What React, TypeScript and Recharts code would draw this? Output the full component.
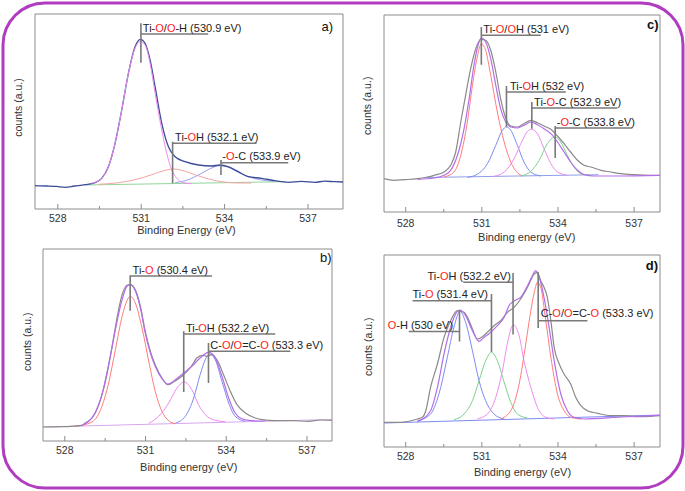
import { ComposedChart, Line, XAxis, YAxis, Scatter, ReferenceArea } from 'recharts'

const PAGE_W = 685
const PAGE_H = 491
const FONT = '"Liberation Sans", Arial, sans-serif'
const FRAME = '#8c8c8c'
const MARK = '#7a7a7a'

const energyTicks = [528, 529.5, 531, 532.5, 534, 535.5, 537]

// colours of the fitted components
const RAW = '#8a8a8a'
const FIT = '#b46ee8'
const MAGENTA = '#f08af0'
const RED = '#ff7c7c'
const BLUE = '#7d8af2'
const GREEN = '#7fd08c'
const NAVY = '#3d4c96'

// ---- a) ----
const aRaw = [
  [527.18, 23.3], [527.6, 23.0], [527.95, 22.6], [528.26, 21.7], [528.6, 23.0], [528.98, 24.3],
  [529.34, 26.3], [529.58, 30.7], [529.82, 42.3], [530.06, 65.7], [530.3, 99], [530.54, 135.7],
  [530.78, 162.3], [530.97, 169.7], [531.14, 165.7], [531.32, 149], [531.5, 122.3], [531.74, 85.7],
  [531.98, 62.3], [532.22, 52.3], [532.58, 47.3], [533.06, 44], [533.54, 43], [533.83, 44],
  [534.13, 42.3], [534.49, 37.3], [534.85, 32.3], [535.33, 30.7], [535.81, 28.3], [536.29, 26.7],
  [536.77, 27.6], [537.25, 26.7], [537.6, 27.8], [537.97, 27.3], [538.26, 27],
]
const aPeak1 = [
  [529.22, 25.7], [529.58, 30.7], [529.82, 42.3], [530.06, 65.7], [530.3, 99], [530.54, 135.7],
  [530.78, 160.7], [530.97, 167.3], [531.14, 164], [531.32, 145.7], [531.5, 115.7], [531.74, 79],
  [531.92, 55.7], [532.1, 39], [532.28, 30.7], [532.52, 26.3], [532.82, 25.3],
]
const aPeak2 = [
  [529.46, 24.7], [530.18, 26.3], [530.78, 29.3], [531.38, 34.3], [531.86, 38.7], [532.16, 40],
  [532.46, 38.7], [532.94, 34.3], [533.42, 30], [533.89, 27.3], [534.49, 26], [534.97, 26],
]
const aPeak3 = [
  [532.22, 26.3], [532.58, 28.3], [532.94, 32.3], [533.3, 37.7], [533.59, 41.7], [533.83, 43.3],
  [534.13, 41.7], [534.49, 36.7], [534.85, 32.3], [535.33, 29], [535.81, 27.7],
]
const aBase = [[528.98, 24], [536.17, 27.3]]
const aBrackets = [
  [[530.99, 146.3], [530.99, 185.7], [530.99, 175], [533.41, 175]],
  [[532.13, 25.7], [532.13, 67.3], [532.13, 65.7], [535.15, 65.7]],
  [[533.87, 34], [533.87, 49], [533.87, 46.3], [536.29, 46.3]],
]
const aNotes = [
  { e: 531.06, h: 177.5, label: 'Ti-{O}/{O}-H (530.9 eV)' },
  { e: 532.22, h: 68, label: 'Ti-{O}H (532.1 eV)' },
  { e: 533.92, h: 49, label: '-{O}-C (533.9 eV)' },
]

// ---- b) ----
const bRaw = [
  [527.19, 14], [527.9, 14.3], [528.64, 15.7], [528.76, 18], [529.01, 23], [529.26, 36.3],
  [529.51, 59.7], [529.75, 93], [529.94, 123], [530.13, 146.3], [530.31, 155.7], [530.43, 156.3],
  [530.62, 151.3], [530.81, 134.7], [530.99, 109.7], [531.18, 89.7], [531.36, 76.3], [531.61, 63],
  [531.83, 56.3], [532.04, 59], [532.35, 64.7], [532.66, 73], [532.91, 83], [533.1, 85.7],
  [533.28, 84.7], [533.47, 86.3], [533.65, 81.3], [533.9, 66.3], [534.15, 49.7], [534.4, 36.3],
  [534.71, 28], [535.08, 23], [535.33, 21.3], [535.82, 20.3], [536.44, 20.3], [537.06, 19.7],
  [537.5, 21], [537.93, 20.7],
]
const bFit = [
  [528.64, 15.7], [528.89, 19.7], [529.13, 28], [529.38, 46.3], [529.63, 76.3], [529.88, 111.3],
  [530.13, 141.3], [530.31, 154.7], [530.43, 156.3], [530.62, 150.3], [530.81, 133], [530.99, 108],
  [531.18, 88], [531.36, 74.7], [531.61, 62.3], [531.83, 57], [532.11, 61.3], [532.42, 68],
  [532.72, 74.7], [533.03, 83], [533.34, 88.7], [533.59, 83], [533.84, 64.7], [534.09, 43],
  [534.33, 28], [534.58, 22.3], [534.95, 20.3], [535.45, 20],
]
const bPeak1 = [
  [528.39, 14.7], [529.01, 19], [529.38, 34.7], [529.63, 58], [529.88, 91.3], [530.13, 124.7],
  [530.31, 140.3], [530.43, 144.7], [530.62, 138], [530.87, 113], [531.12, 79.7], [531.36, 49.7],
  [531.61, 29.7], [531.86, 20.3], [532.11, 17.3],
]
const bPeak2 = [
  [531.12, 17.7], [531.49, 24.7], [531.86, 38], [532.17, 53], [532.44, 59], [532.72, 51.3],
  [532.97, 36.3], [533.22, 26.3], [533.59, 20.7], [533.96, 19.3],
]
const bPeak3 = [
  [532.11, 18], [532.48, 24.7], [532.79, 43], [533.03, 66.3], [533.22, 81.3], [533.38, 87],
  [533.59, 81.3], [533.84, 59.7], [534.09, 38], [534.33, 24.7], [534.71, 19.7],
]
const bBase = [[527.19, 14], [537.93, 21.5]]
const bBrackets = [
  [[530.43, 130.3], [530.43, 165], [533.47, 165]],
  [[532.42, 49], [532.42, 109.7], [532.42, 107], [535.82, 107]],
  [[533.34, 58], [533.34, 98], [533.34, 89.7], [536.38, 89.7]],
]
const bNotes = [
  { e: 530.52, h: 167, label: 'Ti-{O} (530.4 eV)' },
  { e: 532.5, h: 109.5, label: 'Ti-{O}H (532.2 eV)' },
  { e: 533.41, h: 92, label: 'C-{O}/{O}=C-{O} (533.3 eV)' },
]

// ---- c) ----
const cRaw = [
  [527.15, 33.3], [527.54, 31.7], [527.93, 32.3], [528.46, 33.3], [528.85, 35], [529.12, 36.7],
  [529.51, 40], [529.77, 46.7], [529.97, 60], [530.17, 90], [530.36, 116.7], [530.56, 143.3],
  [530.76, 163.3], [530.96, 172.7], [531.15, 171.7], [531.35, 161.7], [531.55, 140], [531.74, 113.3],
  [531.94, 94], [532.14, 86], [532.4, 85], [532.66, 88.3], [532.93, 91.7], [533.19, 89.3],
  [533.45, 86], [533.72, 82.7], [533.98, 76], [534.24, 68.3], [534.5, 60], [534.77, 51.7],
  [535.03, 46.7], [535.29, 45], [535.69, 41.7], [536.08, 40], [536.48, 38.3], [537.0, 37.3],
  [537.66, 36.7], [538.02, 36.7],
]
const cFit = [
  [528.46, 32.7], [529.12, 34], [529.51, 36.7], [529.77, 41.7], [530.04, 56.7], [530.3, 83.3],
  [530.5, 113.3], [530.69, 146.7], [530.89, 170], [530.99, 174], [531.15, 170], [531.35, 153.3],
  [531.55, 126.7], [531.74, 103.3], [531.94, 90], [532.14, 85], [532.4, 84], [532.66, 86.7],
  [532.93, 90], [533.19, 87.3], [533.45, 83.3], [533.72, 78.3], [533.98, 70], [534.24, 60],
  [534.5, 50], [534.77, 41.7], [535.03, 37.3], [535.42, 36], [536.34, 36], [538.02, 36.7],
]
const cPeak1 = [
  [529.51, 35], [529.9, 40], [530.17, 56.7], [530.43, 90], [530.63, 126.7], [530.82, 155],
  [530.98, 168.3], [531.15, 161.7], [531.35, 136.7], [531.61, 100], [531.88, 70], [532.14, 50],
  [532.4, 39.3], [532.66, 36],
]
const cPeak2 = [
  [530.43, 34.7], [530.82, 37.7], [531.22, 48.3], [531.55, 66.7], [531.81, 81.7], [531.97, 85],
  [532.14, 81.7], [532.4, 66.7], [532.66, 50], [532.93, 40], [533.32, 36],
]
const cPeak3 = [
  [531.48, 35.7], [531.88, 40], [532.27, 53.3], [532.6, 71.7], [532.8, 80.7], [532.97, 82.7],
  [533.19, 78.3], [533.45, 63.3], [533.72, 48.3], [533.98, 40], [534.37, 36.7],
]
const cPeak4 = [
  [532.53, 36], [532.93, 40.7], [533.26, 51.7], [533.58, 68.3], [533.89, 75], [534.11, 70],
  [534.37, 56.7], [534.63, 45], [534.9, 38.3], [535.29, 36.7],
]
const cBase = [[528.8, 34.5], [535.6, 37.3]]
const cBrackets = [
  [[530.98, 147.3], [530.98, 185], [530.98, 176.7], [533.32, 176.7]],
  [[531.97, 85], [531.97, 126], [531.97, 120], [534.31, 120]],
  [[532.97, 83.3], [532.97, 110], [532.97, 104], [536.34, 104]],
  [[533.89, 54], [533.89, 86], [533.89, 84], [536.93, 84]],
]
const cNotes = [
  { e: 531.06, h: 179, label: 'Ti-{O}/{O}H (531 eV)' },
  { e: 532.11, h: 122.5, label: 'Ti-{O}H (532 eV)' },
  { e: 533.06, h: 106.5, label: 'Ti-{O}-C (532.9 eV)' },
  { e: 533.95, h: 86.5, label: '-{O}-C (533.8 eV)' },
]

// ---- d) ----
const dRaw = [
  [527.15, 24.7], [527.8, 24.7], [528.46, 28], [528.66, 29.7], [528.79, 36.3], [528.98, 59.7],
  [529.25, 83], [529.51, 109.7], [529.77, 126.3], [530.04, 136.3], [530.3, 134.7], [530.5, 126.3],
  [530.63, 118], [530.82, 108], [531.02, 110.3], [531.22, 114.7], [531.48, 121.3], [531.74, 126.3],
  [532.01, 134.7], [532.27, 139.7], [532.53, 148], [532.8, 159.7], [533.06, 173], [533.19, 174.7],
  [533.32, 166.3], [533.45, 159.7], [533.58, 149.7], [533.72, 126.3], [533.85, 99.7], [534.05, 83],
  [534.24, 73], [534.5, 63], [534.7, 49.7], [534.9, 41.3], [535.16, 36.3], [535.56, 33.7],
  [536.08, 31.3], [536.61, 31.3], [537.13, 30.3], [537.66, 30.7], [538.02, 31.3],
]
const dFit = [
  [528.46, 25.3], [528.98, 36.3], [529.25, 59.7], [529.51, 93], [529.77, 119.7], [529.97, 133],
  [530.14, 137], [530.36, 131.3], [530.63, 116.3], [530.89, 105.7], [531.09, 109.7], [531.35, 114.7],
  [531.61, 121.3], [531.88, 129.7], [532.07, 141.3], [532.34, 147], [532.53, 149.7], [532.8, 161.3],
  [532.99, 171.3], [533.12, 176.3], [533.26, 169.7], [533.45, 149.7], [533.65, 119.7], [533.85, 86.3],
  [534.11, 53], [534.37, 36.3], [534.63, 29.7], [535.03, 28], [536.5, 30], [538.02, 31.7],
]
const dPeak1 = [
  [528.46, 26.3], [528.98, 33], [529.38, 59.7], [529.64, 89.7], [529.9, 119.7], [530.14, 135.7],
  [530.36, 124.7], [530.63, 96.3], [530.89, 66.3], [531.15, 46.3], [531.48, 33], [531.88, 28],
]
const dPeak2 = [
  [529.9, 27.3], [530.3, 33], [530.63, 46.3], [530.89, 66.3], [531.15, 86.3], [531.38, 94.7],
  [531.61, 86.3], [531.88, 64.7], [532.14, 44.7], [532.4, 33], [532.8, 29],
]
const dPeak3 = [
  [530.82, 28], [531.22, 33], [531.55, 49.7], [531.81, 76.3], [532.03, 106.3], [532.24, 122.3],
  [532.47, 111.3], [532.66, 86.3], [532.93, 59.7], [533.19, 39.7], [533.52, 29.7], [533.85, 28],
]
const dPeak4 = [
  [531.74, 28], [532.14, 36.3], [532.47, 63], [532.73, 103], [532.93, 136.3], [533.08, 156.3],
  [533.19, 164.7], [533.32, 159.7], [533.52, 126.3], [533.72, 89.7], [533.98, 53], [534.24, 36.3],
  [534.5, 29.7], [534.9, 28],
]
const dBase = [[527.15, 24], [538.02, 32]]
const dBrackets = [
  [[528.12, 115.5], [530.12, 115.5], [530.12, 137], [530.12, 105.5]],
  [[528.27, 146.2], [531.38, 146.2], [531.38, 153], [531.38, 95]],
  [[530.27, 164.7], [532.23, 164.7], [532.23, 174], [532.23, 112.5]],
  [[533.22, 119], [533.22, 174.7], [533.22, 126.3], [535.16, 126.3]],
]
const dNotes = [
  { e: 527.29, h: 118.5, label: '{O}-H (530 eV)' },
  { e: 528.27, h: 149, label: 'Ti-{O} (531.4 eV)' },
  { e: 528.86, h: 167.5, label: 'Ti-{O}H (532.2 eV)' },
  { e: 533.32, h: 130.5, label: 'C-{O}/{O}=C-{O} (533.3 eV)' },
]

type Curve = { data: number[][]; color: string; width?: number }
type Note = { e: number; h: number; label: string }
type Box = { left: number; top: number; right: number; bottom: number }

const toPoints = (arr: number[][]) => arr.map(([e, h]) => ({ e, h }))

function EnergyTick({ x, y, payload, gap }: any) {
  const major = payload.value % 3 === 0
  return (
    <g>
      <line x1={x} x2={x} y1={y} y2={y - (major ? 5 : 3)} stroke={FRAME} />
      {major && (
        <text x={x} y={y + gap} textAnchor="middle" fontSize={10.5} fontFamily={FONT} fill="#333">
          {payload.value}
        </text>
      )}
    </g>
  )
}

function NoteText({ cx, cy, payload }: any) {
  const parts = String(payload.label).split(/(\{O\})/)
  return (
    <text x={cx} y={cy} fontSize={11} fontFamily={FONT} fill="#222" style={{ whiteSpace: 'pre' }}>
      {parts.map((p, i) =>
        p === '{O}' ? (
          <tspan key={i} fill="#ff1a1a">O</tspan>
        ) : (
          <tspan key={i}>{p}</tspan>
        )
      )}
    </text>
  )
}

interface PanelProps {
  box: Box
  domain: [number, number]
  tickGap: number
  curves: Curve[]
  brackets: number[][][]
  notes: Note[]
}

function Panel({ box, domain, tickGap, curves, brackets, notes }: PanelProps) {
  const yMax = box.bottom - box.top
  return (
    <div style={{ position: 'absolute', left: 0, top: 0 }}>
      <ComposedChart
        width={PAGE_W}
        height={PAGE_H}
        margin={{ top: box.top, left: box.left, right: PAGE_W - box.right, bottom: PAGE_H - box.bottom - 20 }}
      >
        <XAxis
          type="number"
          dataKey="e"
          domain={domain}
          allowDataOverflow
          ticks={energyTicks}
          interval={0}
          height={20}
          tickSize={0}
          tickMargin={0}
          tickLine={false}
          axisLine={false}
          tick={(p: any) => <EnergyTick {...p} gap={tickGap} />}
        />
        <YAxis type="number" dataKey="h" domain={[0, yMax]} allowDataOverflow hide />
        <ReferenceArea
          x1={domain[0]}
          x2={domain[1]}
          y1={0}
          y2={yMax}
          fill="none"
          stroke={FRAME}
          strokeWidth={1}
          ifOverflow="visible"
        />
        {curves.map((c, i) => (
          <Line
            key={'c' + i}
            data={toPoints(c.data)}
            dataKey="h"
            type="monotone"
            stroke={c.color}
            strokeWidth={c.width ?? 1}
            dot={false}
            activeDot={false}
            isAnimationActive={false}
          />
        ))}
        {brackets.map((b, i) => (
          <Line
            key={'b' + i}
            data={toPoints(b)}
            dataKey="h"
            type="linear"
            stroke={MARK}
            strokeWidth={1.6}
            dot={false}
            activeDot={false}
            isAnimationActive={false}
          />
        ))}
        <Scatter data={notes} dataKey="h" shape={(p: any) => <NoteText {...p} />} isAnimationActive={false} />
      </ComposedChart>
    </div>
  )
}

export default function App() {
  return (
    <div style={{ position: 'absolute', left: 0, top: 0, width: PAGE_W, height: PAGE_H, background: '#fff' }}>
      <Panel
        box={{ left: 35, top: 14, right: 343, bottom: 209 }}
        domain={[527.18, 538.26]}
        tickGap={12.5}
        curves={[
          { data: aBase, color: '#8fd69a' },
          { data: aPeak2, color: '#f6a3a3' },
          { data: aPeak3, color: '#9aa5f2' },
          { data: aRaw, color: NAVY, width: 1.3 },
          { data: aPeak1, color: '#f08cf0' },
        ]}
        brackets={aBrackets}
        notes={aNotes}
      />
      <Panel
        box={{ left: 43, top: 249, right: 332, bottom: 441 }}
        domain={[527.19, 537.93]}
        tickGap={12.5}
        curves={[
          { data: bBase, color: '#d8a6ef' },
          { data: bPeak1, color: RED },
          { data: bPeak2, color: MAGENTA },
          { data: bPeak3, color: BLUE },
          { data: bRaw, color: RAW, width: 1.2 },
          { data: bFit, color: FIT, width: 1.2 },
        ]}
        brackets={bBrackets}
        notes={bNotes}
      />
      <Panel
        box={{ left: 384, top: 15, right: 660, bottom: 212 }}
        domain={[527.145, 538.02]}
        tickGap={14.5}
        curves={[
          { data: cBase, color: '#8f9fe8' },
          { data: cPeak1, color: RED },
          { data: cPeak2, color: BLUE },
          { data: cPeak3, color: MAGENTA },
          { data: cPeak4, color: GREEN },
          { data: cRaw, color: RAW, width: 1.2 },
          { data: cFit, color: FIT, width: 1.2 },
        ]}
        brackets={cBrackets}
        notes={cNotes}
      />
      <Panel
        box={{ left: 384, top: 255, right: 660, bottom: 447 }}
        domain={[527.145, 538.02]}
        tickGap={13}
        curves={[
          { data: dBase, color: BLUE },
          { data: dPeak1, color: BLUE },
          { data: dPeak2, color: GREEN },
          { data: dPeak3, color: MAGENTA },
          { data: dPeak4, color: RED },
          { data: dRaw, color: RAW, width: 1.2 },
          { data: dFit, color: FIT, width: 1.2 },
        ]}
        brackets={dBrackets}
        notes={dNotes}
      />

      {/* frame, axis titles and panel letters */}
      <svg
        width={PAGE_W}
        height={PAGE_H}
        style={{ position: 'absolute', left: 0, top: 0, pointerEvents: 'none' }}
        fontFamily={FONT}
      >
        <rect x={3} y={3} width={680} height={485} rx={42} fill="none" stroke="#b03cc0" strokeWidth={3} />

        <text x={186.5} y={234} textAnchor="middle" fontSize={11} fill="#333">Binding Energy (eV)</text>
        <text x={188.7} y={470.5} textAnchor="middle" fontSize={11} fill="#333">Binding energy (eV)</text>
        <text x={526.7} y={240.5} textAnchor="middle" fontSize={11} fill="#333">Binding energy (eV)</text>
        <text x={522.5} y={476} textAnchor="middle" fontSize={11} fill="#333">Binding energy (eV)</text>

        <text transform="translate(21.5 107.5) rotate(-90)" textAnchor="middle" fontSize={10.5} fill="#333">counts (a.u.)</text>
        <text transform="translate(30.7 341.7) rotate(-90)" textAnchor="middle" fontSize={10.5} fill="#333">counts (a.u.)</text>
        <text transform="translate(370.7 105.8) rotate(-90)" textAnchor="middle" fontSize={10.5} fill="#333">counts (a.u.)</text>
        <text transform="translate(372.3 346.7) rotate(-90)" textAnchor="middle" fontSize={10.5} fill="#333">counts (a.u.)</text>

        <text x={333} y={30.5} textAnchor="end" fontSize={13} fill="#111">a)</text>
        <text x={331.5} y={261.5} textAnchor="end" fontSize={13} fill="#111">b)</text>
        <text x={658.5} y={28.5} textAnchor="end" fontSize={13} fontWeight="bold" fill="#111">c)</text>
        <text x={658} y={270} textAnchor="end" fontSize={13} fontWeight="bold" fill="#111">d)</text>
      </svg>
    </div>
  )
}
